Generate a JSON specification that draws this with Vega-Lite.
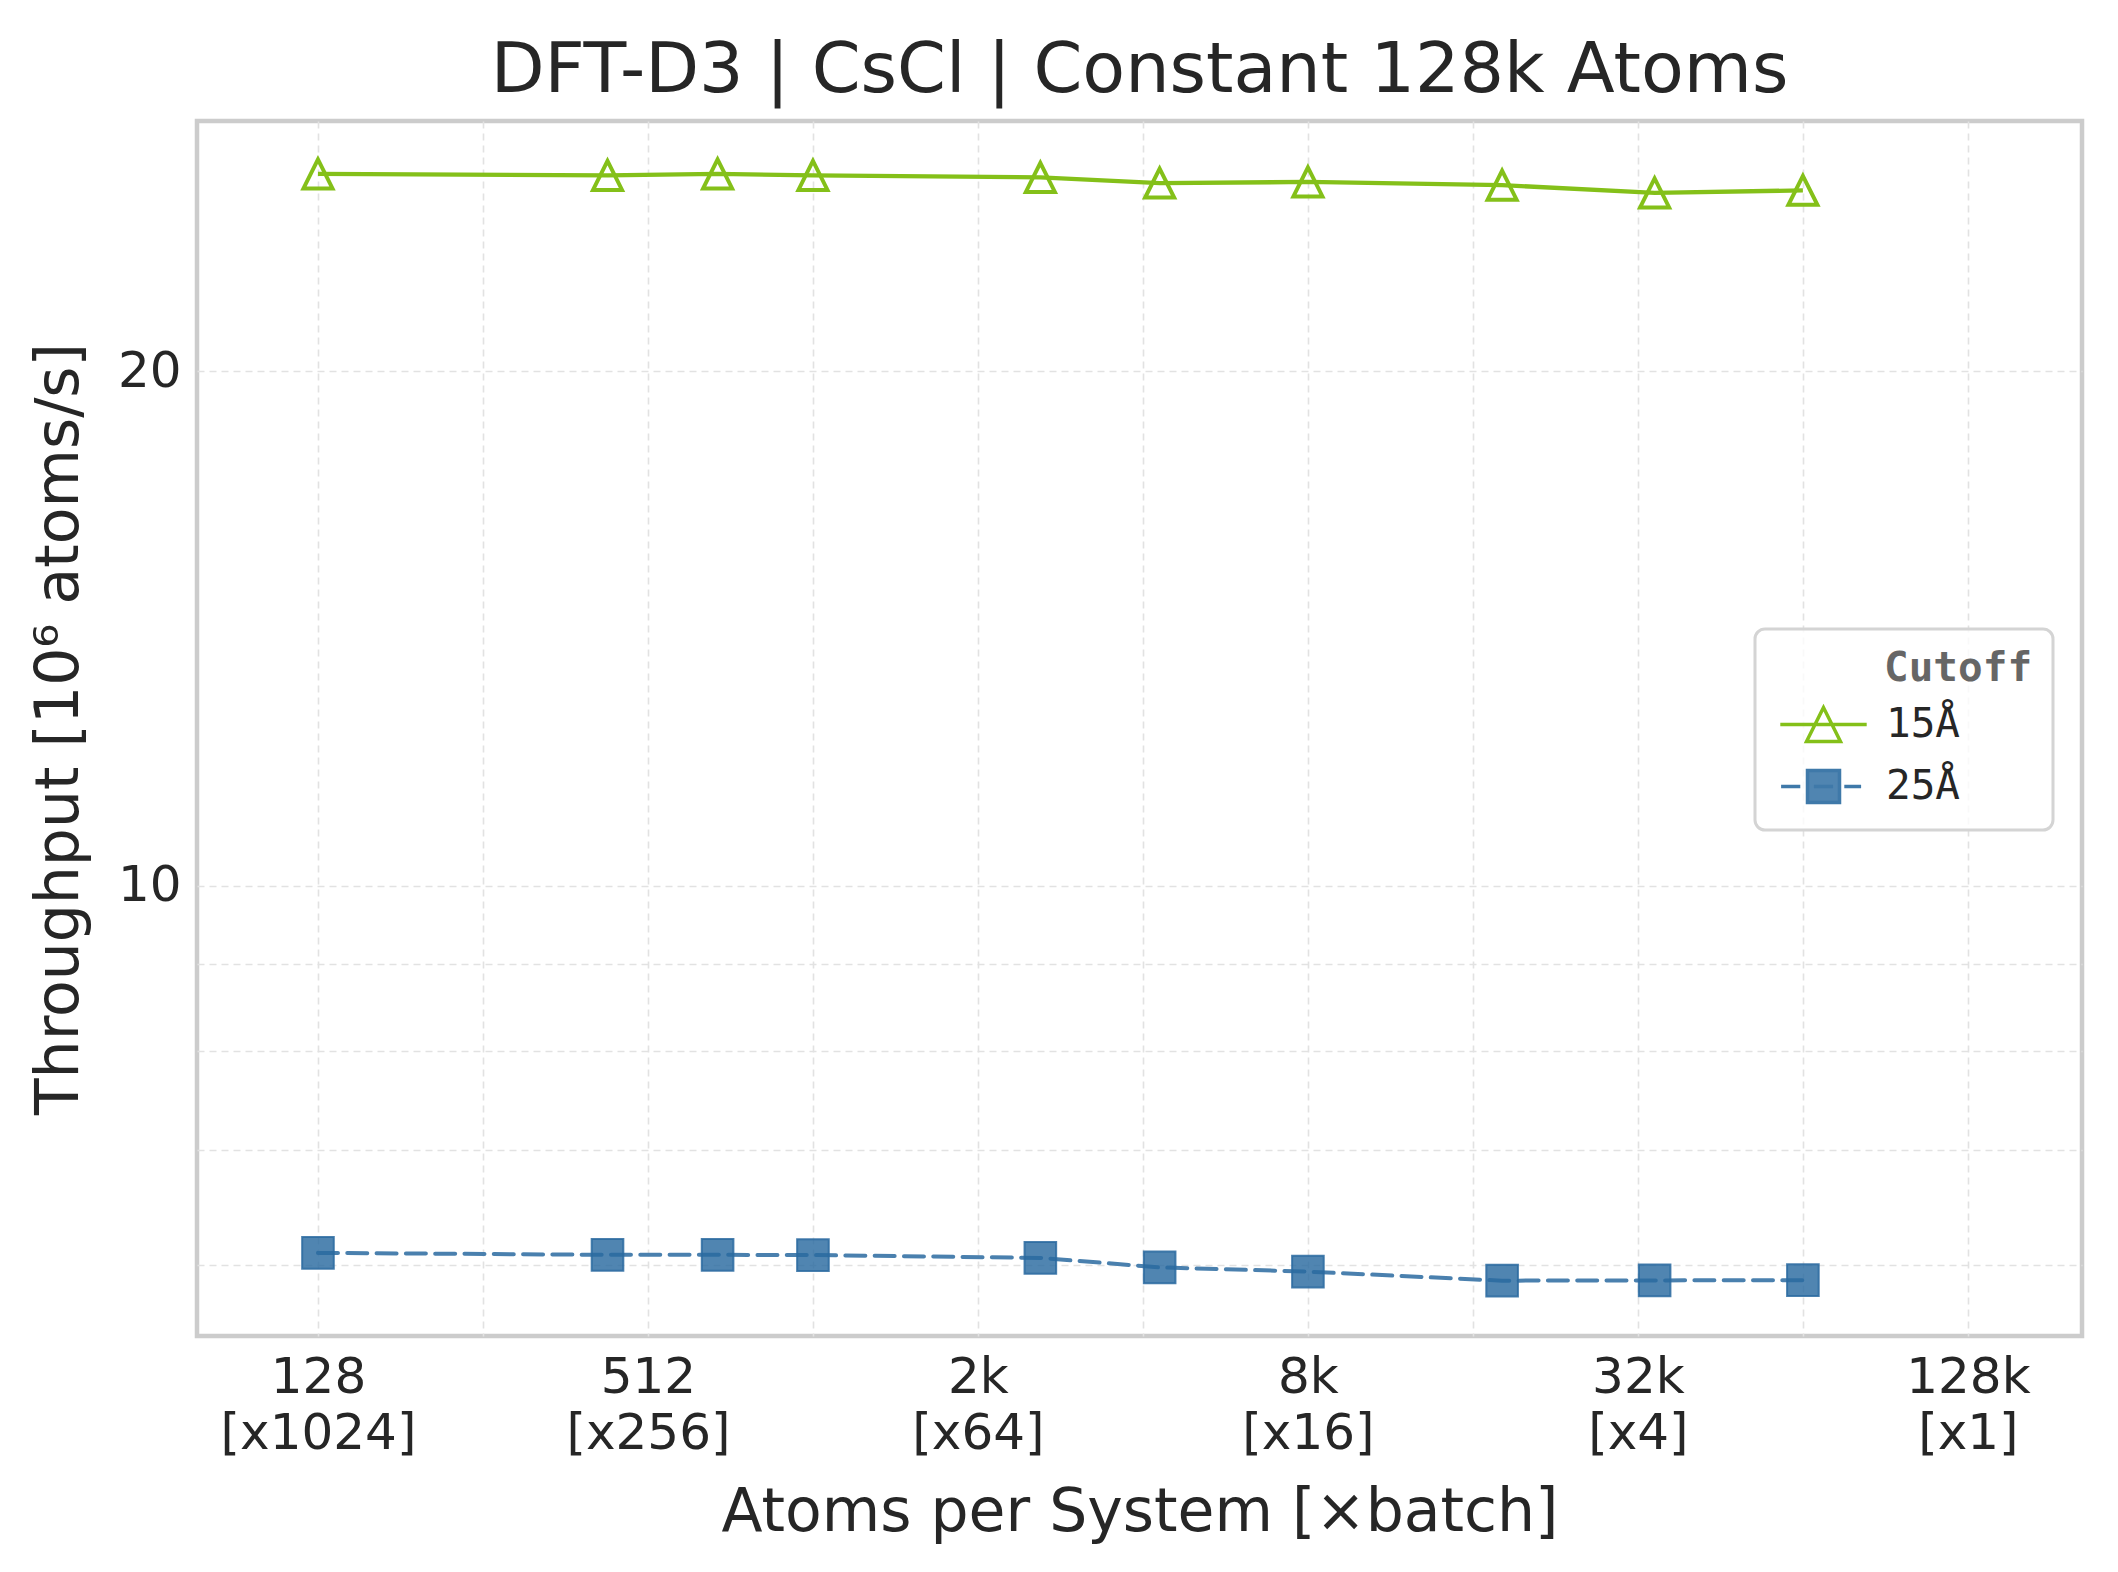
{
  "$schema": "https://vega.github.io/schema/vega-lite/v6.json",
  "width": 1885,
  "height": 1215,
  "autosize": {"type": "none"},
  "padding": {"left": 197, "top": 121, "right": 36, "bottom": 236},
  "background": "white",
  "title": {
    "text": "DFT-D3 | CsCl | Constant 128k Atoms",
    "font": "DejaVu Sans",
    "fontSize": 70,
    "fontWeight": "normal",
    "color": "#262626",
    "anchor": "middle",
    "frame": "group",
    "baseline": "alphabetic",
    "offset": 30,
    "dy": 71
  },
  "data": {
    "values": [
      {"atoms": 128, "throughput": 26.09, "cutoff": "15Å"},
      {"atoms": 432, "throughput": 26.04, "cutoff": "15Å"},
      {"atoms": 686, "throughput": 26.09, "cutoff": "15Å"},
      {"atoms": 1024, "throughput": 26.04, "cutoff": "15Å"},
      {"atoms": 2662, "throughput": 25.97, "cutoff": "15Å"},
      {"atoms": 4394, "throughput": 25.77, "cutoff": "15Å"},
      {"atoms": 8192, "throughput": 25.81, "cutoff": "15Å"},
      {"atoms": 18522, "throughput": 25.70, "cutoff": "15Å"},
      {"atoms": 35152, "throughput": 25.43, "cutoff": "15Å"},
      {"atoms": 65536, "throughput": 25.52, "cutoff": "15Å"},
      {"atoms": 128, "throughput": 6.096, "cutoff": "25Å"},
      {"atoms": 432, "throughput": 6.080, "cutoff": "25Å"},
      {"atoms": 686, "throughput": 6.080, "cutoff": "25Å"},
      {"atoms": 1024, "throughput": 6.078, "cutoff": "25Å"},
      {"atoms": 2662, "throughput": 6.055, "cutoff": "25Å"},
      {"atoms": 4394, "throughput": 5.978, "cutoff": "25Å"},
      {"atoms": 8192, "throughput": 5.944, "cutoff": "25Å"},
      {"atoms": 18522, "throughput": 5.872, "cutoff": "25Å"},
      {"atoms": 35152, "throughput": 5.874, "cutoff": "25Å"},
      {"atoms": 65536, "throughput": 5.876, "cutoff": "25Å"}
    ]
  },
  "encoding": {
    "x": {
      "field": "atoms",
      "type": "quantitative",
      "title": "Atoms per System [×batch]",
      "scale": {"type": "log", "base": 2, "domain": [77, 211700], "nice": false},
      "axis": {
        "values": [128, 256, 512, 1024, 2048, 4096, 8192, 16384, 32768, 65536, 131072],
        "labelExpr": "datum.value == 128 ? ['128', '[x1024]'] : datum.value == 512 ? ['512', '[x256]'] : datum.value == 2048 ? ['2k', '[x64]'] : datum.value == 8192 ? ['8k', '[x16]'] : datum.value == 32768 ? ['32k', '[x4]'] : datum.value == 131072 ? ['128k', '[x1]'] : ''",
        "labelOverlap": false,
        "labelFlush": false,
        "labelLimit": 400,
        "labelFont": "DejaVu Sans",
        "labelFontSize": 50,
        "labelColor": "#262626",
        "labelPadding": 16,
        "labelLineHeight": 56,
        "ticks": false,
        "tickSize": 0,
        "domain": false,
        "grid": true,
        "gridColor": "#e2e2e2",
        "gridDash": [7, 5],
        "gridWidth": 1.6,
        "titleFont": "DejaVu Sans",
        "titleFontSize": 60,
        "titleFontWeight": "normal",
        "titleColor": "#262626",
        "titlePadding": 25
      }
    },
    "y": {
      "field": "throughput",
      "type": "quantitative",
      "title": "Throughput [10⁶ atoms/s]",
      "scale": {"type": "log", "domain": [5.45, 28.02], "nice": false},
      "axis": {
        "values": [6, 7, 8, 9, 10, 20],
        "labelExpr": "datum.value == 10 ? '10' : datum.value == 20 ? '20' : ''",
        "labelOverlap": false,
        "labelFlush": false,
        "labelFont": "DejaVu Sans",
        "labelFontSize": 50,
        "labelColor": "#262626",
        "labelPadding": 16,
        "ticks": false,
        "tickSize": 0,
        "domain": false,
        "grid": true,
        "gridColor": "#e2e2e2",
        "gridDash": [7, 5],
        "gridWidth": 1.6,
        "titleFont": "DejaVu Sans",
        "titleFontSize": 60,
        "titleFontWeight": "normal",
        "titleColor": "#262626",
        "titlePadding": 27
      }
    }
  },
  "layer": [
    {
      "transform": [{"filter": "datum.cutoff == '15Å'"}],
      "mark": {"type": "line", "color": "#84c019", "strokeWidth": 4.3}
    },
    {
      "transform": [{"filter": "datum.cutoff == '25Å'"}],
      "mark": {"type": "line", "color": "#4a80ae", "strokeWidth": 4, "strokeDash": [20, 9.3], "strokeCap": "round"}
    },
    {
      "transform": [{"filter": "datum.cutoff == '15Å'"}],
      "mark": {"type": "point", "shape": "M0,-1L-1,1L1,1Z", "size": 841, "filled": false, "stroke": "#84c019", "strokeWidth": 4, "strokeJoin": "miter", "opacity": 1}
    },
    {
      "transform": [{"filter": "datum.cutoff == '25Å'"}],
      "mark": {"type": "point", "shape": "square", "size": 1000, "filled": true, "fill": "#2a6aa0", "fillOpacity": 0.82, "stroke": "#2a6aa0", "strokeOpacity": 0.85, "strokeWidth": 2, "opacity": 1}
    },
    {
      "mark": {"type": "point"},
      "encoding": {
        "opacity": {"value": 0},
        "shape": {
          "field": "cutoff",
          "type": "nominal",
          "scale": {"domain": ["15Å", "25Å"], "range": ["M-2.7,0H2.7M0,-1.06L-1.06,1.06L1.06,1.06Z", "M-2.65,0H-1.45M1.3,0H2.35M-0.6,0H0.6M-1,-1H1V1H-1Z"]},
          "legend": {"title": "Cutoff", "orient": "none", "legendX": 1558, "legendY": 508, "symbolOpacity": 1, "encode": {"title": {"update": {"dx": {"value": 109}}}}}
        },
        "stroke": {
          "field": "cutoff",
          "type": "nominal",
          "scale": {"domain": ["15Å", "25Å"], "range": ["#84c019", "#3f79a9"]},
          "legend": {"title": "Cutoff", "orient": "none", "legendX": 1558, "legendY": 508, "symbolOpacity": 1, "encode": {"title": {"update": {"dx": {"value": 109}}}}}
        },
        "fill": {
          "field": "cutoff",
          "type": "nominal",
          "scale": {"domain": ["15Å", "25Å"], "range": ["transparent", "rgba(42,106,160,0.82)"]},
          "legend": {"title": "Cutoff", "orient": "none", "legendX": 1558, "legendY": 508, "symbolOpacity": 1, "encode": {"title": {"update": {"dx": {"value": 109}}}}}
        }
      }
    }
  ],
  "config": {
    "view": {"stroke": "#cccccc", "strokeWidth": 4.5},
    "font": "DejaVu Sans",
    "legend": {
      "padding": 20,
      "strokeColor": "#d4d4d4",
      "strokeWidth": 3,
      "cornerRadius": 10,
      "fillColor": "rgba(255,255,255,0.8)",
      "titleFont": "DejaVu Sans Mono",
      "titleFontSize": 41,
      "titleFontWeight": "bold",
      "titleColor": "#666666",
      "titlePadding": 14,
      "labelFont": "DejaVu Sans Mono",
      "labelFontSize": 41,
      "labelColor": "#262626",
      "symbolSize": 1024,
      "symbolStrokeWidth": 3.5,
      "symbolOffset": 28,
      "labelOffset": 42,
      "rowPadding": 14
    }
  }
}
